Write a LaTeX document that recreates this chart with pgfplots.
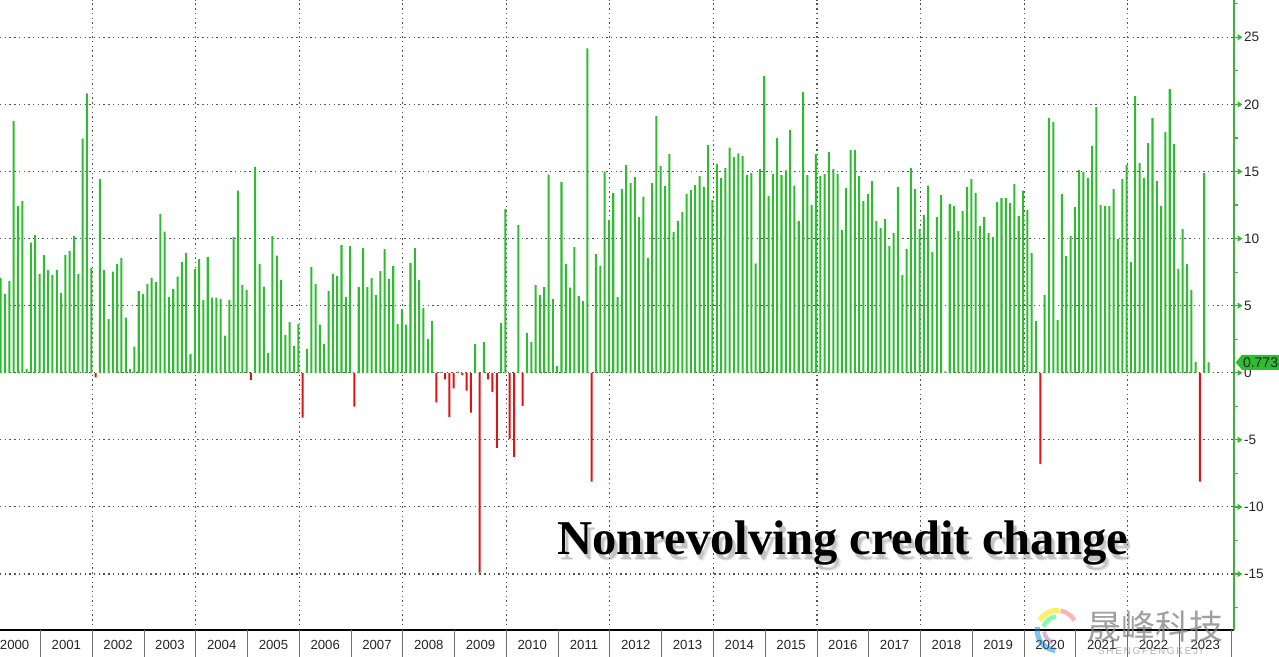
\documentclass[border=0pt]{standalone}
\usepackage{fontspec}
\setmainfont{Liberation Sans}
\newfontfamily\titlefont{Liberation Serif}
\newfontfamily\cjk{Noto Sans CJK SC}
\usepackage{pgfplots}
\pgfplotsset{compat=1.18}
\definecolor{barg}{RGB}{48,188,48}
\definecolor{barr}{RGB}{222,20,20}
\definecolor{axg}{RGB}{60,180,60}
\definecolor{gridc}{RGB}{85,85,85}
\definecolor{sepc}{RGB}{110,110,110}
\begin{document}
\begin{tikzpicture}
\useasboundingbox (0pt,0pt) rectangle (639.5pt,328.5pt);
\begin{axis}[
  at={(0pt,13.5pt)}, anchor=south west,
  scale only axis, width=617pt, height=315pt,
  xmin=1.838, xmax=287.9, ymin=-19.17, ymax=27.78,
  axis line style={draw=none},
  clip=false,
  xtick={23.23,47.23,71.23,95.23,119.23,143.23,167.23,191.23,215.23,239.23,263.23},
  xticklabels={},
  xtick style={draw=none},
  xmajorgrids, ymajorgrids,
  grid style={gridc, line width=0.55pt, dash pattern=on 0.7pt off 1.65pt},
  ytick={-15,-10,...,25},
  yticklabel pos=right,
  ytick style={draw=none},
  y tick label style={font=\fontsize{6.8pt}{7pt}\selectfont, anchor=west, xshift=1.5pt, text=black!85},
  /pgf/number format/assume math mode=true,
]
% green (positive) bars
\addplot[ybar, bar width=0.47, bar shift=0pt, fill=barg, draw=none] coordinates {
(2,7.08)(3,5.86)(4,6.83)(5,18.78)(6,12.42)(7,12.8)(8,0.27)(9,9.69)(10,10.26)(11,7.35)
(12,8.77)(13,7.65)(14,7.28)(15,7.65)(16,5.96)(17,8.77)(18,9.09)(19,10.19)(20,7.35)(21,17.44)(22,20.82)(23,7.8)
(25,14.43)(26,7.65)(27,4.0)(28,7.53)(29,8.1)(30,8.55)(31,4.1)(32,0.27)(33,1.94)(34,6.09)(35,5.86)
(36,6.6)(37,7.08)(38,6.76)(39,11.83)(40,10.51)(41,5.66)(42,6.26)(43,7.16)(44,8.25)(45,8.92)(46,1.39)(47,7.75)
(48,8.47)(49,5.42)(50,8.62)(51,5.59)(52,5.59)(53,5.49)(54,2.76)(55,5.42)(56,10.11)(57,13.57)(58,6.53)(59,6.16)
(61,15.35)(62,8.12)(63,6.41)(64,1.49)(65,10.19)(66,8.72)(67,6.91)(68,2.83)(69,3.78)(70,1.99)(71,3.65)
(73,1.78)(74,7.88)(75,6.61)(76,3.58)(77,2.16)(78,6.09)(79,7.35)(80,7.2)(81,9.52)(82,5.64)(83,9.44)
(85,6.39)(86,9.29)(87,6.39)(88,7.06)(89,5.79)(90,7.58)(91,9.22)(92,6.98)(93,7.95)(94,3.63)(95,4.75)
(96,3.58)(97,8.17)(98,9.29)(99,6.91)(100,4.84)(101,2.51)(102,3.85)(104,0.07)
(108,0.08)(112,2.14)(114,2.29)(118,3.7)(119,12.2)
(122,11.0)(124,2.98)(125,2.29)(126,6.53)(127,5.79)(128,6.39)(129,14.76)(130,5.49)(131,0.5)
(132,14.2)(133,8.1)(134,6.34)(135,9.37)(136,5.71)(137,5.34)(138,24.17)(140,8.84)(141,7.97)(142,14.98)(143,11.38)
(144,13.39)(145,5.64)(146,13.69)(147,15.48)(148,14.14)(149,14.58)(150,11.6)(151,13.12)(152,8.55)(153,14.14)(154,19.15)(155,15.4)
(156,13.91)(157,16.3)(158,10.48)(159,11.3)(160,11.97)(161,13.31)(162,13.61)(163,13.99)(164,14.66)(165,13.84)(166,16.97)(167,12.87)
(168,15.55)(169,14.51)(170,15.25)(171,16.77)(172,16.07)(173,16.35)(174,16.15)(175,14.73)(176,14.88)(177,8.15)(178,15.18)(179,22.11)
(180,13.19)(181,14.81)(182,17.49)(183,14.73)(184,15.08)(185,18.09)(186,13.94)(187,11.3)(188,20.94)(189,14.73)(190,12.5)(191,16.3)
(192,14.66)(193,14.81)(194,16.45)(195,15.18)(196,14.81)(197,10.63)(198,13.76)(199,16.6)(200,16.6)(201,14.66)(202,12.8)(203,13.31)
(204,14.29)(205,11.3)(206,10.78)(207,11.45)(208,9.44)(209,10.41)(210,13.84)(211,7.28)(212,9.22)(213,15.25)(214,13.69)(215,10.71)
(216,11.75)(217,13.94)(218,8.99)(219,11.6)(220,13.24)(221,0.1)(222,12.57)(223,12.42)(224,10.56)(225,12.05)(226,13.84)(227,14.43)
(228,13.39)(229,10.93)(230,11.6)(231,10.41)(232,10.11)(233,12.72)(234,13.02)(235,13.02)(236,12.65)(237,14.06)(238,11.68)(239,13.57)
(240,12.12)(241,8.92)(242,3.85)(244,5.79)(245,18.98)(246,18.68)(247,3.93)(248,13.31)(249,8.7)(250,10.19)(251,12.35)
(252,15.1)(253,14.96)(254,14.51)(255,16.9)(256,19.8)(257,12.5)(258,12.42)(259,12.42)(260,13.69)(261,9.96)(262,14.43)(263,15.48)
(264,8.25)(265,20.62)(266,15.63)(267,14.51)(268,17.12)(269,18.98)(270,14.29)(271,12.42)(272,17.93)(273,21.14)(274,17.04)(275,7.75)
(276,10.71)(277,8.1)(278,6.16)(279,0.8)(281,14.88)(282,0.773)
};
% red (negative) bars
\addplot[ybar, bar width=0.47, bar shift=0pt, fill=barr, draw=none] coordinates {
(24,-0.35)(60,-0.55)(72,-3.35)(84,-2.53)(103,-2.21)(105,-0.5)(106,-3.28)(107,-1.17)(109,-0.17)
(110,-1.34)(111,-2.98)(113,-14.9)(115,-0.5)(116,-1.42)(117,-5.59)(120,-4.92)(121,-6.26)(123,-2.46)
(139,-8.12)(243,-6.8)(280,-8.12)
};
\coordinate (BL) at (axis cs:1.838,-19.17);
\coordinate (BR) at (axis cs:287.9,-19.17);
\coordinate (TR) at (axis cs:287.9,27.78);
\pgfplotsinvokeforeach{0,...,8}{
  \coordinate (M#1) at (axis cs:287.9,{-15+5*#1});
}
\pgfplotsinvokeforeach{0,...,9}{
  \coordinate (m#1) at (axis cs:287.9,{-17.5+5*#1});
}
\pgfplotsinvokeforeach{1,...,24}{
  \coordinate (S#1) at (axis cs:{12*#1-0.77},-19.17);
}
\pgfplotsinvokeforeach{0,...,23}{
  \coordinate (Y#1) at (axis cs:{12*#1+5.23},-19.17);
}
\coordinate (V) at (axis cs:287.9,0.773);
\coordinate (T) at (axis cs:197.2,-12.72);
\coordinate (W) at (axis cs:269.6,-18.9);
\coordinate (W2) at (axis cs:268.5,-20.75);
\coordinate (L) at (axis cs:246.9,-19.2);
\end{axis}
% axis frame pieces
\draw[black, line width=0.7pt] (BL) -- (BR);
\draw[axg, line width=0.8pt] (BR) -- (TR);
\foreach \v in {0,...,8}{
  \draw[axg, line width=0.6pt] (M\v) -- ++(2.5pt,0pt);
  \fill[axg] (M\v) ++(1.8pt,1.6pt) -- ++(2.4pt,-1.6pt) -- ++(-2.4pt,-1.6pt) -- cycle;
}
\foreach \v in {0,...,9}{
  \draw[axg, line width=0.6pt] (m\v) -- ++(2.2pt,0pt);
}
% year separators and labels
\foreach \k in {1,...,24}{
  \draw[sepc, line width=0.5pt] (S\k) -- ++(0pt,-13.5pt);
}
\foreach \k in {0,...,23}{
  \pgfmathtruncatemacro\yr{2000+\k}
  \node[font=\fontsize{6.6pt}{7pt}\selectfont, text=black!85] at ([yshift=-7.3pt]Y\k) {\yr};
}
% last value label
\fill[barg] (V) ++(0.8pt,0pt) -- ++(3.2pt,3.8pt) -- ++(20pt,0pt) -- ++(0pt,-7.6pt) -- ++(-20pt,0pt) -- cycle;
\node[font=\fontsize{7pt}{7pt}\selectfont, anchor=west, text=black!85, inner sep=0pt] at ([xshift=4.3pt]V) {0.773};
% title with soft shadow
\foreach \dx/\dy/\o in {2.0/-3.0/0.10,1.4/-2.2/0.15}{
  \node[font=\titlefont\bfseries\fontsize{24.3pt}{26pt}\selectfont, text=black, opacity=\o] at ([xshift=\dx pt, yshift=\dy pt]T) {Nonrevolving credit change};
}
\node[font=\titlefont\bfseries\fontsize{24.3pt}{26pt}\selectfont, text=black] at (T) {Nonrevolving credit change};
% watermark
\draw[yellow!85!orange, line width=2.6pt, opacity=0.6] (L) ++(150:10pt) arc (150:85:10pt);
\draw[green!60!cyan, line width=2.2pt, opacity=0.5] (L) ++(165:7pt) arc (165:95:7pt);
\draw[cyan!70!blue, line width=2.6pt, opacity=0.5] (L) ++(170:10pt) arc (170:265:10pt);
\draw[violet!60, line width=2pt, opacity=0.5] (L) ++(185:6.5pt) arc (185:250:6.5pt);
\draw[red!60, line width=2.2pt, opacity=0.5] (L) ++(80:10pt) arc (80:30:10pt);
\node[font=\cjk\fontsize{17pt}{18pt}\selectfont, text=gray, opacity=0.75] at (W) {晟峰科技};
\node[font=\fontsize{5pt}{5pt}\selectfont, text=gray, opacity=0.6] at (W2) {S\,H\,E\,N\,G\,F\,E\,N\,G\,K\,E\,J\,I};
\end{tikzpicture}
\end{document}
